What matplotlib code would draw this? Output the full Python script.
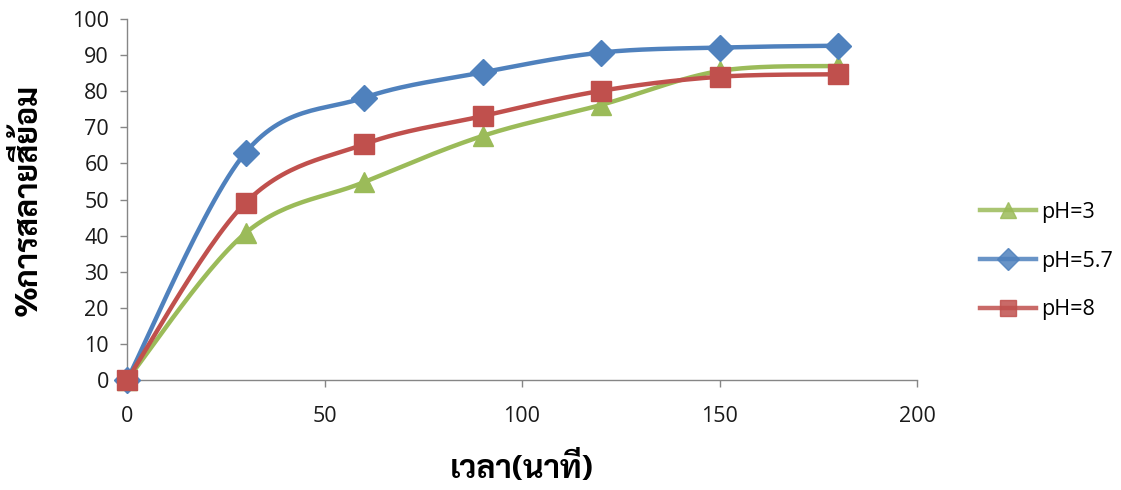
import numpy as np
import matplotlib
matplotlib.use("Agg")
import matplotlib.pyplot as plt
from matplotlib.lines import Line2D

# ---- data ----
time_min = [0, 30, 60, 90, 120, 150, 180]
ph3 = [0, 40.7, 54.8, 67.6, 76.2, 85.6, 87.0]
ph57 = [0, 63.0, 78.2, 85.2, 90.7, 92.1, 92.6]
ph8 = [0, 49.1, 65.3, 73.1, 80.1, 84.0, 84.7]
series_labels = ["pH=3", "pH=5.7", "pH=8"]
x_ticks = [0, 50, 100, 150, 200]
y_ticks = [0, 10, 20, 30, 40, 50, 60, 70, 80, 90, 100]
xlabel = "เวลา(นาที)"
ylabel = "%การสลายสีย้อม"

base_font = "Open Sans"
label_family = ["Sarabun", "DejaVu Sans"]


def smooth(x, y, n=30):
    P = np.column_stack([np.asarray(x, float), np.asarray(y, float)])
    m = len(P)
    out = []
    for i in range(m - 1):
        p0 = P[i - 1] if i > 0 else P[i]
        p1 = P[i]
        p2 = P[i + 1]
        p3 = P[i + 2] if i + 2 < m else P[i + 1]
        c1 = p1 + (p2 - p0) / 6.0
        c2 = p2 - (p3 - p1) / 6.0
        t = np.linspace(0, 1, n)[:, None]
        seg = ((1 - t) ** 3) * p1 + 3 * ((1 - t) ** 2) * t * c1 + 3 * (1 - t) * t ** 2 * c2 + t ** 3 * p2
        if i > 0:
            seg = seg[1:]
        out.append(seg)
    out = np.vstack(out)
    return out[:, 0], out[:, 1]


fig = plt.figure(figsize=(11.21, 4.90), dpi=100)
ax = fig.add_axes([127 / 1121, 1 - 380 / 490, (917 - 127) / 1121, (380 - 19) / 490])

colors = ["#9BBB59", "#4F81BD", "#C0504D"]
markers = ["^", "D", "s"]
msizes = [14, 13, 14]
data = [ph3, ph57, ph8]
for k in range(3):
    sx, sy = smooth(time_min, data[k])
    ax.plot(sx, sy, color=colors[k], lw=3.2, solid_capstyle="round", zorder=2 + k, clip_on=False)
    ax.plot(time_min, data[k], linestyle="none", marker=markers[k], ms=msizes[k],
            color=colors[k], mec=colors[k], zorder=2 + k, clip_on=False)

ax.set_xlim(0, 200)
ax.set_ylim(0, 100)
ax.set_xticks(x_ticks)
ax.set_yticks(y_ticks)
for s in ["top", "right"]:
    ax.spines[s].set_visible(False)
for s in ["left", "bottom"]:
    ax.spines[s].set_color("#868686")
    ax.spines[s].set_linewidth(1.0)
ax.tick_params(axis="both", direction="out", length=5, color="#868686", width=1.0,
               labelsize=15.5, labelcolor="#1a1a1a")
ax.tick_params(axis="x", pad=14)
ax.tick_params(axis="y", pad=8)
for lab in ax.get_xticklabels() + ax.get_yticklabels():
    lab.set_fontfamily(base_font)

fig.text(522 / 1121, 1 - 468 / 490, xlabel, ha="center", va="center",
         fontsize=23, fontweight="bold", family=label_family, color="black")
fig.text(28 / 1121, 1 - 200 / 490, ylabel, ha="center", va="center", rotation=90,
         fontsize=23, fontweight="bold", family=label_family, color="black")

handles = [Line2D([], [], color=colors[k], lw=3.2, marker=markers[k], ms=msizes[k] * 0.85,
                  mec=colors[k], alpha=0.85) for k in range(3)]
leg = fig.legend(handles, series_labels, loc="center left", bbox_to_anchor=(961 / 1121, 1 - 261 / 490),
                 frameon=False, prop={"family": base_font, "size": 15.5}, handlelength=2.6,
                 labelspacing=1.3, handletextpad=0.2)

fig.savefig("out.png", dpi=100)
